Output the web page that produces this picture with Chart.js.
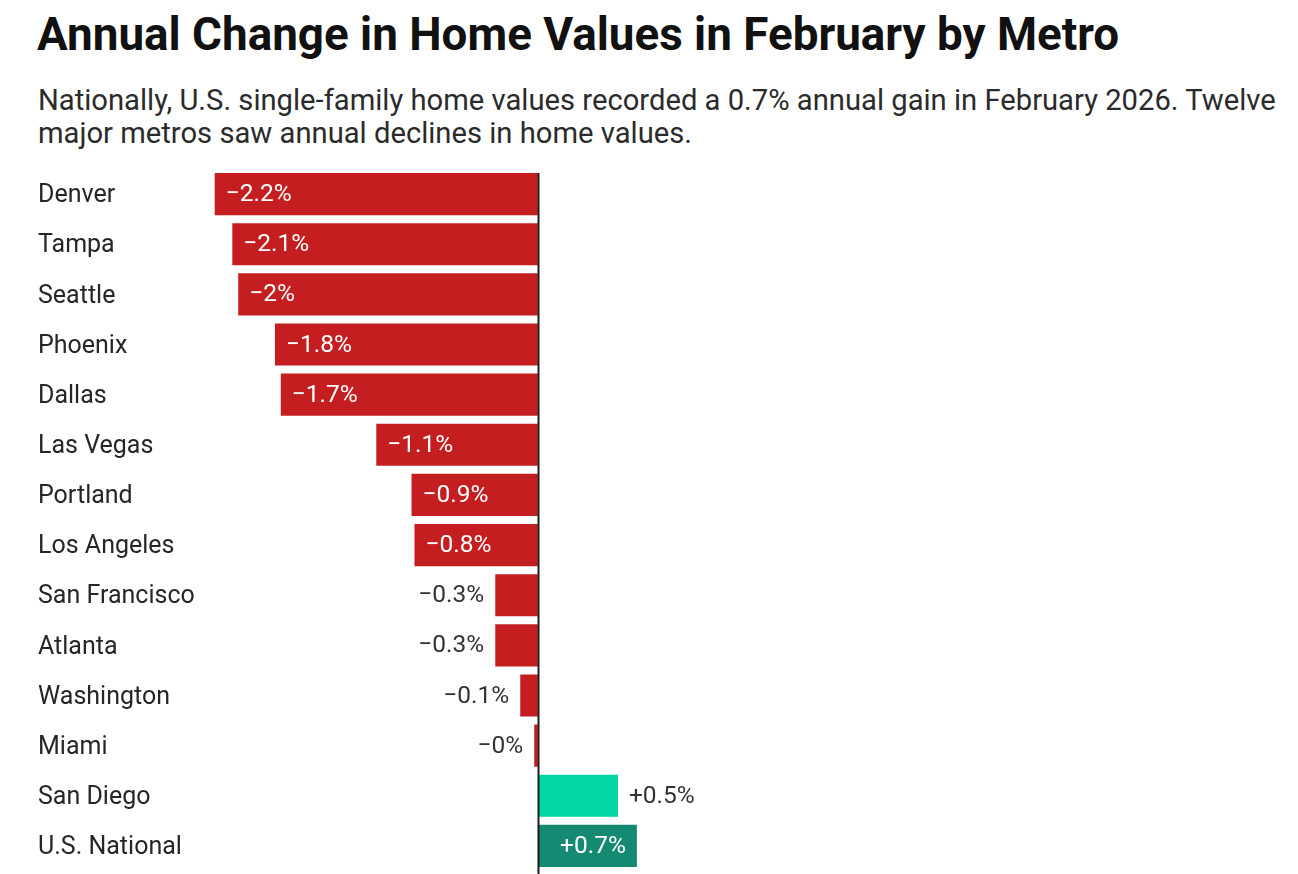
<!DOCTYPE html>
<html>
<head>
<meta charset="utf-8">
<script src="https://cdn.jsdelivr.net/npm/chart.js@4.4.1/dist/chart.umd.min.js"></script>
<style>
  html, body { margin: 0; padding: 0; background: #ffffff; width: 1298px; height: 874px; overflow: hidden; }
  #title { position: absolute; left: 37px; top: 13px; font-family: Roboto, sans-serif; font-weight: 700; font-size: 45.8px; line-height: 44px; color: #111111; white-space: nowrap; }
  #subtitle { position: absolute; left: 38px; top: 84px; font-family: Roboto, sans-serif; font-weight: 400; font-size: 29.2px; line-height: 33px; color: #2b2b2b; white-space: nowrap; }
  #wrap { position: absolute; left: 0; top: 0; width: 1298px; height: 874px; }
</style>
</head>
<body>
<div id="title">Annual Change in Home Values in February by Metro</div>
<div id="subtitle">Nationally, U.S. single-family home values recorded a 0.7% annual gain in February 2026. Twelve<br>major metros saw annual declines in home values.</div>
<div id="wrap"><canvas id="c"></canvas></div>
<script>
const categories = ['Denver', 'Tampa', 'Seattle', 'Phoenix', 'Dallas', 'Las Vegas', 'Portland', 'Los Angeles', 'San Francisco', 'Atlanta', 'Washington', 'Miami', 'San Diego', 'U.S. National'];
const values = [-2.2, -2.08, -2.04, -1.79, -1.75, -1.1, -0.86, -0.84, -0.29, -0.29, -0.12, -0.025, 0.545, 0.674];
const valueLabels = ['−2.2%', '−2.1%', '−2%', '−1.8%', '−1.7%', '−1.1%', '−0.9%', '−0.8%', '−0.3%', '−0.3%', '−0.1%', '−0%', '+0.5%', '+0.7%'];
const nationalLabel = 'U.S. National';

const RED = '#c41e20';
const TEAL = '#00d7a2';
const DARK_TEAL = '#148a72';
const barColors = categories.map((c, i) => c === nationalLabel ? DARK_TEAL : (values[i] < 0 ? RED : TEAL));

const valueLabelPlugin = {
  id: 'valueLabels',
  afterDatasetsDraw(chart) {
    const ctx = chart.ctx;
    const meta = chart.getDatasetMeta(0);
    ctx.save();
    ctx.font = '400 24.5px Roboto, sans-serif';
    ctx.textBaseline = 'middle';
    const pad = 11;
    meta.data.forEach((bar, i) => {
      const txt = valueLabels[i];
      const w = ctx.measureText(txt).width;
      const len = Math.abs(bar.x - bar.base);
      const neg = values[i] < 0;
      const inside = len >= w + 2 * pad;
      let x, align;
      if (inside) {
        ctx.fillStyle = '#ffffff';
        if (neg) { x = bar.x + pad; align = 'left'; } else { x = bar.x - pad; align = 'right'; }
      } else {
        ctx.fillStyle = '#333333';
        if (neg) { x = bar.x - pad; align = 'right'; } else { x = bar.x + pad; align = 'left'; }
      }
      ctx.textAlign = align;
      ctx.fillText(txt, x, bar.y + 1);
    });
    // zero line
    const x0 = Math.round(chart.scales.x.getPixelForValue(0)) + 0.5;
    ctx.strokeStyle = '#1e1e1e';
    ctx.lineWidth = 2;
    ctx.beginPath();
    ctx.moveTo(x0, chart.chartArea.top + 4);
    ctx.lineTo(x0, chart.height);
    ctx.stroke();
    ctx.restore();
  }
};

new Chart(document.getElementById('c'), {
  type: 'bar',
  data: {
    labels: categories,
    datasets: [{
      data: values,
      backgroundColor: barColors,
      borderWidth: 0,
      barPercentage: 0.84,
      categoryPercentage: 1.0
    }]
  },
  options: {
    indexAxis: 'y',
    responsive: true,
    maintainAspectRatio: false,
    animation: false,
    devicePixelRatio: 1,
    layout: { padding: { left: 38, right: 642.6, top: 169, bottom: 3 } },
    plugins: { legend: { display: false }, tooltip: { enabled: false }, title: { display: false } },
    scales: {
      x: { display: false, min: -2.3, max: 0.8 },
      y: {
        position: 'left',
        grid: { display: false },
        border: { display: false },
        ticks: {
          crossAlign: 'far',
          padding: 0,
          labelOffset: 2,
          color: '#262626',
          font: { family: 'Roboto, sans-serif', size: 25 }
        },
        afterFit(scale) { scale.width = 162; scale.paddingTop = 0; scale.paddingBottom = 0; }
      }
    }
  },
  plugins: [valueLabelPlugin]
});
</script>
</body>
</html>
